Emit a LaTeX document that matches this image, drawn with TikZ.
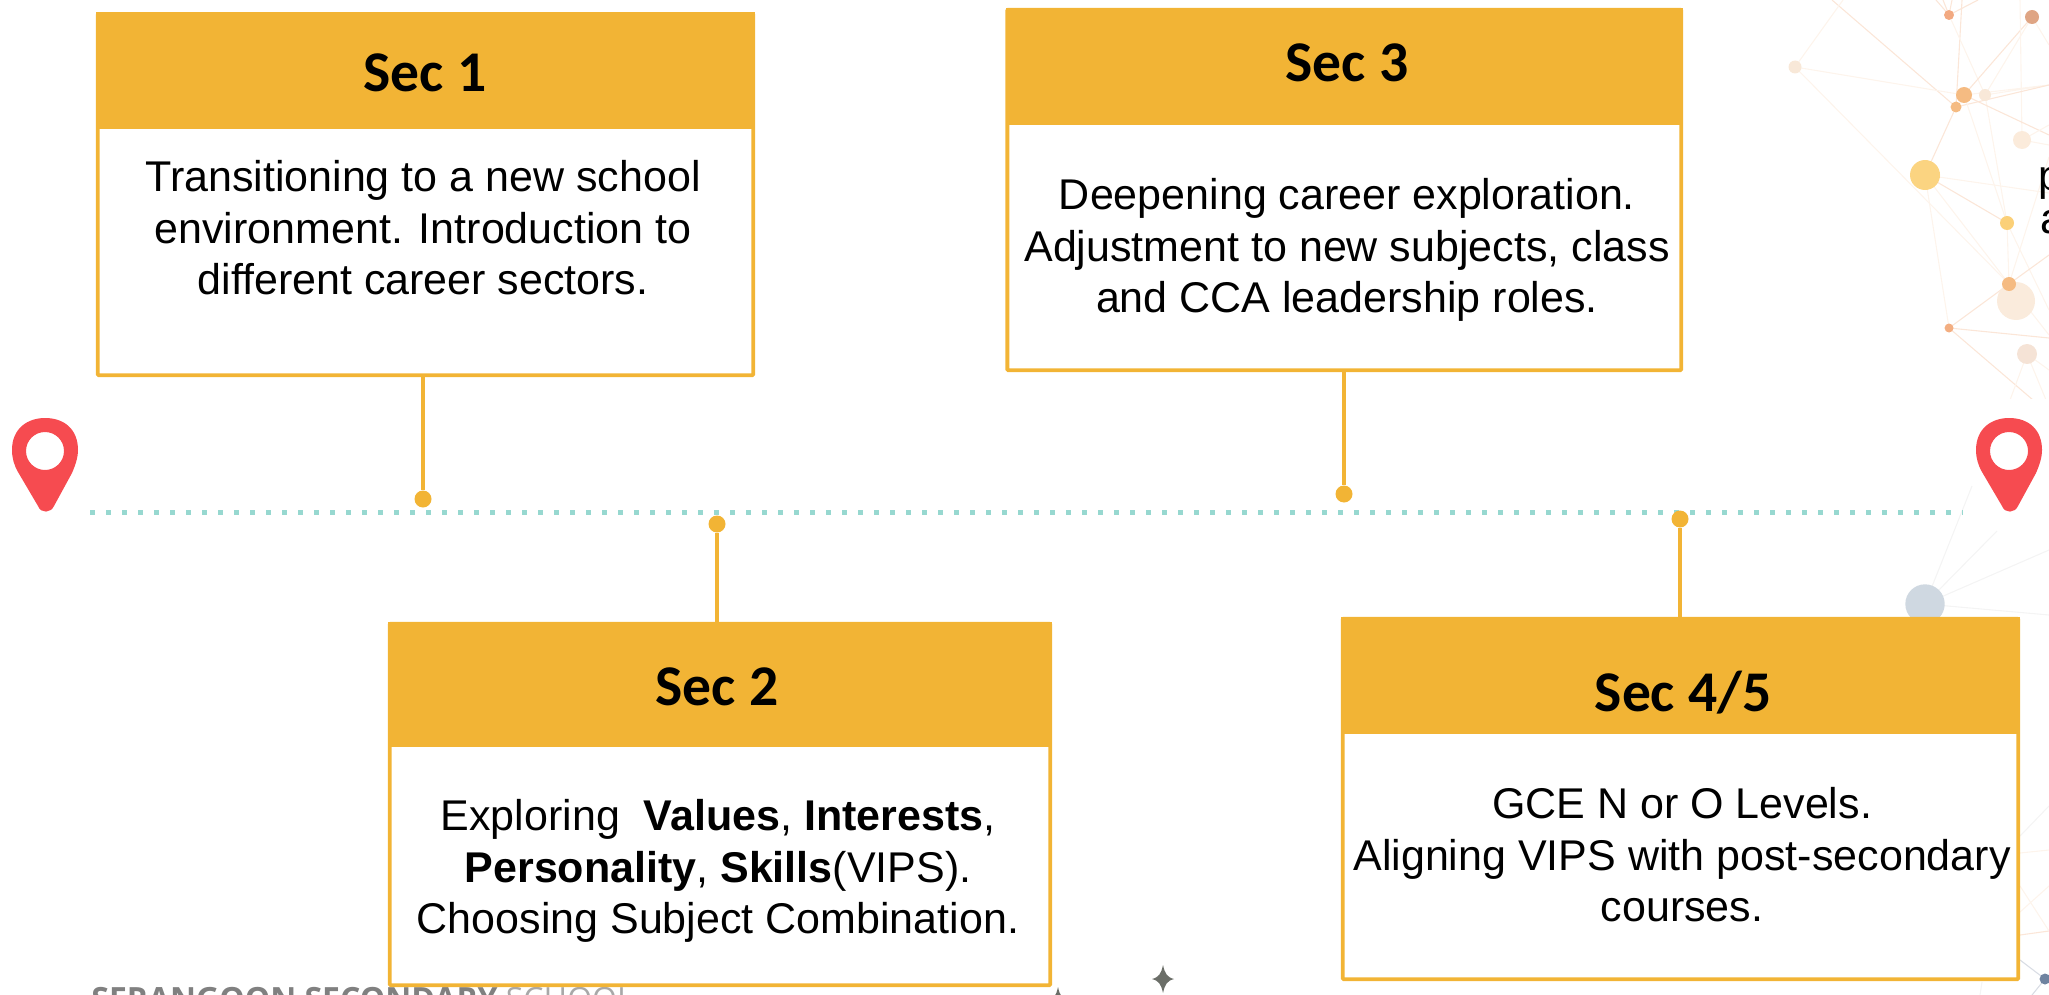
\documentclass[tikz,border=0pt]{standalone}
\usepackage{fontspec}
\setmainfont{Liberation Sans}
\newfontfamily\headfont{Carlito}
\newfontfamily\footfont{Open Sans}
\definecolor{hdr}{HTML}{F2B435}
\definecolor{pinred}{HTML}{F64B50}
\definecolor{tealdot}{HTML}{97D8D0}
\definecolor{foot}{HTML}{808080}
\definecolor{footlight}{HTML}{A8A8A8}
\definecolor{starc}{HTML}{6B6E68}
\definecolor{lnA}{HTML}{FBE6D8}
\definecolor{lnB}{HTML}{FDF4EC}
\definecolor{lnC}{HTML}{F4F4F4}
\definecolor{lnD}{HTML}{D9DDE4}
\definecolor{nA}{HTML}{F2A981}
\definecolor{nB}{HTML}{DFA584}
\definecolor{nC}{HTML}{F8E8D8}
\definecolor{nD}{HTML}{F5BB82}
\definecolor{nG}{HTML}{FBEBDB}
\definecolor{nH}{HTML}{FBD481}
\definecolor{nI}{HTML}{FBD078}
\definecolor{nK}{HTML}{FAEBDC}
\definecolor{nM}{HTML}{F5E3D6}
\definecolor{nN}{HTML}{CFD8E1}
\definecolor{nP}{HTML}{6F83A0}
\tikzset{
  x=0.5pt,y=-0.5pt,
  boxbody/.style={rectangle,draw=hdr,line width=1.9pt,fill=white,rounded corners=0.5pt,inner sep=0pt},
  boxhead/.style={rectangle,fill=hdr,inner sep=0pt},
  headtext/.style={font=\headfont\bfseries\fontsize{28.8}{30}\selectfont,anchor=base,inner sep=0pt,text=black},
  bodytext/.style={font=\fontsize{21.5}{25.75}\selectfont,align=center,inner sep=0pt,text=black},
  stem/.style={draw=hdr,line width=2.2pt},
  stemdot/.style={circle,fill=hdr,minimum size=8.5pt,inner sep=0pt},
  netnode/.style={circle,inner sep=0pt},
  netA/.style={draw=lnA,line width=0.55pt},
  netB/.style={draw=lnB,line width=0.55pt},
  netC/.style={draw=lnC,line width=0.55pt},
  netD/.style={draw=lnD,line width=0.55pt},
  pics/locpin/.style={code={
    \fill[pinred,even odd rule] (12,450) .. controls (12,428) and (28,418) .. (45,418) .. controls (65,418) and (78,430) .. (78,450) .. controls (78,458) and (75,466) .. (72,473) -- (54,506) .. controls (51,513) and (41,514) .. (38,506) -- (18,472) .. controls (14,465) and (12,458) .. (12,450) -- cycle (45,451) circle[radius=19];
  }},
  pics/sparkle/.style={code={
    \fill[starc] (0,-14) .. controls (2,-5) and (4,-2) .. (11,0) .. controls (4,2) and (2,5) .. (0,14) .. controls (-2,5) and (-4,2) .. (-11,0) .. controls (-4,-2) and (-2,-5) .. (0,-14) -- cycle;
  }}
}
\begin{document}
\begin{tikzpicture}
\path[use as bounding box] (0,0) rectangle (2049,995);
\clip (0,0) rectangle (2049,995);
% upper network
\begin{scope}
\clip (1780,0) rectangle (2049,398);
\coordinate (o1) at (1832,0); \coordinate (o2) at (1843,0);
\coordinate (o3) at (1936,0); \coordinate (o4) at (1943,0);
\coordinate (o5) at (1962,0); \coordinate (o6) at (1978,0);
\coordinate (o7) at (2020,0); \coordinate (o8) at (2049,45);
\coordinate (o9) at (2049,85); \coordinate (o10) at (2049,135);
\coordinate (o11) at (2049,193); \coordinate (o12) at (2049,125);
\coordinate (o13) at (2049,145); \coordinate (o14) at (2049,157);
\coordinate (o15) at (2049,255); \coordinate (o16) at (2049,335);
\coordinate (o17) at (2049,310); \coordinate (o18) at (2049,338);
\coordinate (o19) at (2033,400); \coordinate (o20) at (2049,370);
\coordinate (o21) at (2010,400); \coordinate (o22) at (2046,400);
\coordinate (o23) at (1952,0); \coordinate (o24) at (2010,0);
\coordinate (nA) at (1949,15); \coordinate (nB) at (2032,17);
\coordinate (nC) at (1795,67); \coordinate (nD) at (1964,95);
\coordinate (nE) at (1985,95); \coordinate (nF) at (1956,107);
\coordinate (nG) at (2022,140); \coordinate (nH) at (1925,175);
\coordinate (nI) at (2007,223); \coordinate (nJ) at (2009,284);
\coordinate (nK) at (2016,301); \coordinate (nL) at (1949,328);
\coordinate (nM) at (2027,354);
\draw[netA] (o1) -- (nF);
\draw[netB] (o2) -- (nC);
\draw[netA] (o3) -- (nA) (o4) -- (nA) (o23) -- (nA);
\draw[netA] (nA) -- (o6);
\draw[netA] (o5) -- (nF);
\draw[netB] (nA) -- (nE);
\draw[netB] (nC) -- (nD);
\draw[netB] (nC) -- (nJ);
\draw[netA] (nB) -- (nD);
\draw[netB] (nB) -- (nE);
\draw[netB] (nB) -- (o8);
\draw[netB] (o7) -- (nG);
\draw[netB] (nD) -- (o9) (nE) -- (o9);
\draw[netA] (nF) -- (o9);
\draw[netB] (nD) -- (nI);
\draw[netB] (nE) -- (nI);
\draw[netA] (nD) -- (o10);
\draw[netA] (nF) -- (nH);
\draw[netA] (nH) -- (nI);
\draw[netB] (nH) -- (nJ) (nH) -- (nL) (nH) -- (o11);
\draw[netB] (nI) -- (nJ);
\draw[netB] (nI) -- (o17);
\draw[netB] (nG) -- (o12) (nG) -- (o13);
\draw[netB] (nJ) -- (o14);
\draw[netA] (nJ) -- (nL);
\draw[netA] (nJ) -- (o15);
\draw[netB] (nJ) -- (o16);
\draw[netA] (nL) -- (o18);
\draw[netA] (nL) -- (o19);
\draw[netB] (nM) -- (o20) (nM) -- (o21) (nM) -- (o22);
\node[netnode,fill=nA,minimum size=5pt] at (nA) {};
\node[netnode,fill=nB,minimum size=7pt] at (nB) {};
\node[netnode,fill=nC,minimum size=6.5pt] at (nC) {};
\node[netnode,fill=nD,minimum size=8pt] at (nD) {};
\node[netnode,fill=nC,minimum size=6pt] at (nE) {};
\node[netnode,fill=nD,minimum size=5.5pt] at (nF) {};
\node[netnode,fill=nG,minimum size=9pt] at (nG) {};
\node[netnode,fill=nH,minimum size=15pt] at (nH) {};
\node[netnode,fill=nI,minimum size=7pt] at (nI) {};
\node[netnode,fill=nK,minimum size=19pt] at (nK) {};
\node[netnode,fill=nD,minimum size=7pt] at (nJ) {};
\node[netnode,fill=nA!70!nD,minimum size=4.5pt] at (nL) {};
\node[netnode,fill=nM,minimum size=10pt] at (nM) {};
\end{scope}
% clipped page texts at the right edge
\node[font=\fontsize{21.5}{25}\selectfont,anchor=base west,inner sep=0pt] (clipP) at (2038,190) {p};
\node[font=\fontsize{21.5}{25}\selectfont,anchor=base west,inner sep=0pt] (clipA) at (2040,233) {a};
% lower network
\coordinate (nN) at (1925,604); \coordinate (nP) at (2045,979);
\coordinate (q1) at (1972,486); \coordinate (q2) at (1997,531);
\coordinate (q3) at (2049,550); \coordinate (q4) at (2049,615);
\coordinate (q5) at (2020,960); \coordinate (q6) at (2032,995);
\coordinate (q7) at (1982,982); \coordinate (q8) at (1980,995);
\coordinate (q9) at (2020,836); \coordinate (q10) at (2049,806);
\coordinate (q11) at (2020,853); \coordinate (q12) at (2049,850);
\coordinate (q13) at (2020,912); \coordinate (q14) at (2049,886);
\coordinate (q15) at (2020,935); \coordinate (q16) at (2049,931);
\coordinate (q17) at (2020,886);
\draw[netC] (nN) -- (q1) (nN) -- (q2) (nN) -- (q3) (nN) -- (q4);
\draw[netD] (q5) -- (nP);
\draw[netD] (nP) -- (q6);
\draw[netC] (q7) -- (q8);
\draw[netC] (q9) -- (q10);
\draw[netB] (q11) -- (q12);
\draw[netB] (q13) -- (q14);
\draw[netA] (q15) -- (q16);
\draw[netB] (q17) -- (q16);
\node[netnode,fill=nN,minimum size=19.7pt] at (nN) {};
\node[netnode,fill=nP,minimum size=5.5pt] at (nP) {};
% footer
\node[font=\footfont\fontsize{16}{18}\selectfont,text=foot,anchor=base west,inner sep=0pt] (footer) at (91,1010) {\textbf{SERANGOON SECONDARY} \textcolor{footlight}{SCHOOL}};
\pic at (1163,979) {sparkle};
\pic at (1058,1001) {sparkle};
% pins
\pic at (0,0) {locpin};
\pic at (1964,0) {locpin};
% time line
\coordinate (tl1) at (90,512); \coordinate (tl2) at (1963,512);
\draw[tealdot,line width=2.5pt,dash pattern=on 2.5pt off 5.5pt] (tl1) -- (tl2);
% Sec 1
\node[boxbody,minimum width=327.75pt,minimum height=180.5pt] (b1) at (425.5,194.7) {};
\node[boxhead,minimum width=329.5pt,minimum height=58.25pt] (h1) at (425.5,70.75) {};
\node[headtext] (t1) at (425,91) {Sec 1};
\node[bodytext] (x1) at (423,228) {Transitioning to a new school\\environment. Introduction to\\different career sectors.};
\node[stemdot] (d1) at (423,499) {};
\draw[stem] (d1) -- (d1 |- b1.south);
% Sec 2
\node[stemdot] (d2) at (717,524) {};
\node[boxbody,minimum width=330.25pt,minimum height=180.75pt] (b2) at (720,804.5) {};
\node[boxhead,minimum width=332pt,minimum height=62.5pt] (h2) at (720,684.5) {};
\node[headtext] (t2) at (717,705) {Sec 2};
\node[bodytext] (x2) at (718,871) {Exploring\ \ \textbf{Values}, \textbf{Interests},\\\textbf{Personality}, \textbf{Skills}(VIPS).\\Choosing Subject Combination.};
\draw[stem] (d2) -- (d2 |- h2.north);
% Sec 3
\node[boxbody,minimum width=336.95pt,minimum height=180.25pt] (b3) at (1344.3,190) {};
\node[boxhead,minimum width=338.7pt,minimum height=58.5pt] (h3) at (1344.3,66.5) {};
\node[headtext] (t3) at (1347,82) {Sec 3};
\node[bodytext] (x3) at (1347,250) {Deepening career exploration.\\Adjustment to new subjects, class\\and CCA leadership roles.};
\node[stemdot] (d3) at (1344,494) {};
\draw[stem] (d3) -- (d3 |- b3.south);
% Sec 4/5
\node[stemdot] (d4) at (1680,519) {};
\node[boxbody,minimum width=337.75pt,minimum height=180.25pt] (b4) at (1680.5,799) {};
\node[boxhead,minimum width=339.5pt,minimum height=58.5pt] (h4) at (1680.5,675.5) {};
\node[headtext] (t4) at (1683,711) {Sec 4/5};
\node[bodytext] (x4) at (1682,855) {GCE N or O Levels.\\Aligning VIPS with post-secondary\\courses.};
\draw[stem] (d4) -- (d4 |- h4.north);
\end{tikzpicture}
\end{document}
